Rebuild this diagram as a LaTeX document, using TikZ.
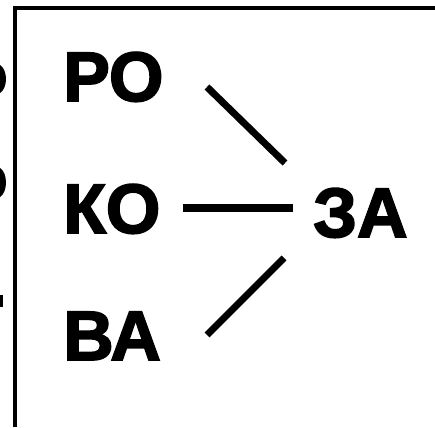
\documentclass[tikz,border=0pt]{standalone}
\usepackage{fontspec}
\setmainfont[BoldFeatures={FakeBold=2.5}]{Liberation Sans}
\begin{document}
\begin{tikzpicture}[x=1pt,y=-1pt,
  word/.style={anchor=base west,inner sep=0pt,font=\fontsize{70}{70}\selectfont\bfseries},
  link/.style={line width=7pt},
  frame/.style={line width=4.5pt}]
\useasboundingbox (0,0) rectangle (435,427);
% frame (cropped panel)
\draw[frame] (15,427) -- (15,8) -- (436,8);
% cut-off fragments of the neighbouring panel
\fill (0,65) .. controls (8,70) and (8,88) .. (0,93) -- cycle;
\fill (0,168) .. controls (8,173) and (8,192) .. (0,197) -- cycle;
\fill (0,295) rectangle (3,307);
% words
\node[word] (po) at (63,101) {РО};
\node[word] (ko) at (63,233) {КО};
\node[word] (za) at (313,237) {ЗА};
\node[word] (va) at (63,360) {ВА};
% connectors
\coordinate (p1) at (207,87);
\coordinate (p2) at (285,163);
\coordinate (k1) at (183,208);
\coordinate (k2) at (293,208);
\coordinate (v1) at (207,335);
\coordinate (v2) at (284,258);
\draw[link] (p1) -- (p2);
\draw[link] (k1) -- (k2);
\draw[link] (v1) -- (v2);
\end{tikzpicture}
\end{document}
